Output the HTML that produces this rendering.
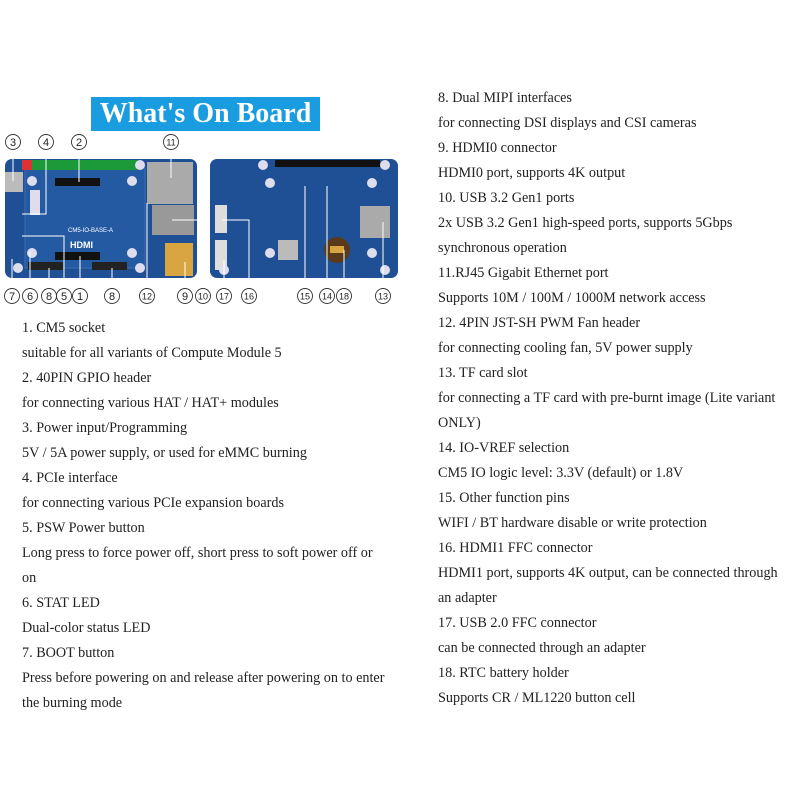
<!DOCTYPE html>
<html><head><meta charset="utf-8"><style>
body{margin:0;width:800px;height:800px;background:#fff;position:relative;overflow:hidden;font-family:"Liberation Serif",serif;}
.col{position:absolute;font-size:14.2px;line-height:25px;color:#222;white-space:nowrap;}
.title{position:absolute;left:91px;top:97px;width:229px;height:34px;background:#1a9ce0;color:#fff;font-weight:bold;font-size:28px;line-height:34px;text-align:center;}
svg{position:absolute;left:0;top:0}
</style></head><body>
<div class="title">What's On Board</div>
<svg width="800" height="310" viewBox="0 0 800 310" font-family="Liberation Sans, sans-serif">
<rect x="5" y="159" width="192" height="119" rx="7" fill="#1f4f95"/>
<rect x="25" y="168" width="120" height="100" fill="#245aa2" stroke="#3c6fb5"/>
<rect x="22" y="160" width="115" height="10" fill="#1c9a3a"/>
<rect x="22" y="160" width="10" height="10" fill="#d33"/>
<rect x="55" y="178" width="45" height="8" fill="#111"/>
<rect x="55" y="252" width="45" height="8" fill="#111"/>
<rect x="5" y="172" width="18" height="20" fill="#bbb"/>
<rect x="30" y="190" width="10" height="25" fill="#dde"/>
<rect x="147" y="162" width="46" height="42" fill="#aaa"/>
<rect x="152" y="205" width="42" height="30" fill="#999"/>
<rect x="165" y="243" width="28" height="33" fill="#d9a540"/>
<rect x="28" y="262" width="35" height="8" fill="#222"/>
<rect x="92" y="262" width="35" height="8" fill="#222"/>
<text x="68" y="232" font-size="6" fill="#fff">CM5-IO-BASE-A</text>
<text x="70" y="248" font-size="9" fill="#fff" font-weight="bold">HDMI</text>
<g fill="#dde"><circle cx="32" cy="181" r="5"/><circle cx="132" cy="181" r="5"/><circle cx="32" cy="253" r="5"/><circle cx="132" cy="253" r="5"/><circle cx="18" cy="268" r="5"/><circle cx="140" cy="165" r="5"/><circle cx="140" cy="268" r="5"/></g>
<rect x="210" y="159" width="188" height="119" rx="7" fill="#1f4f95"/>
<rect x="275" y="160" width="105" height="7" fill="#111"/>
<rect x="215" y="205" width="12" height="28" fill="#ddd"/>
<rect x="215" y="240" width="12" height="30" fill="#ddd"/>
<rect x="360" y="206" width="30" height="32" fill="#aaa"/>
<circle cx="337" cy="250" r="13" fill="#5a3a1a"/>
<rect x="330" y="246" width="14" height="7" fill="#d9a540"/>
<rect x="278" y="240" width="20" height="20" fill="#bbb"/>
<g fill="#dde"><circle cx="263" cy="165" r="5"/><circle cx="385" cy="165" r="5"/><circle cx="270" cy="183" r="5"/><circle cx="372" cy="183" r="5"/><circle cx="270" cy="253" r="5"/><circle cx="372" cy="253" r="5"/><circle cx="224" cy="270" r="5"/><circle cx="385" cy="270" r="5"/></g>
<g stroke="#fff" stroke-width="1" fill="none">
<path d="M13 150V181"/><path d="M46 150V214H22"/><path d="M79 150V182"/><path d="M171 150V178"/>
<path d="M80 288V256"/><path d="M64 288V236H22"/><path d="M30 288V251"/><path d="M12 288V259"/>
<path d="M49 288V268"/><path d="M112 288V268"/><path d="M147 288V203"/><path d="M185 288V262"/>
<path d="M203 288V220H172"/><path d="M224 288V260"/><path d="M249 288V220H222"/>
<path d="M305 288V186"/><path d="M327 288V186"/><path d="M344 288V250"/><path d="M383 288V222"/>
</g>
<g text-anchor="middle" fill="#222">
<g fill="none" stroke="#333" stroke-width="0.9">
<circle cx="13" cy="142" r="7.5"/><circle cx="46" cy="142" r="7.5"/><circle cx="79" cy="142" r="7.5"/><circle cx="171" cy="142" r="7.5"/>
<circle cx="12" cy="296" r="7.5"/><circle cx="30" cy="296" r="7.5"/><circle cx="49" cy="296" r="7.5"/><circle cx="64" cy="296" r="7.5"/><circle cx="80" cy="296" r="7.5"/><circle cx="112" cy="296" r="7.5"/><circle cx="147" cy="296" r="7.5"/><circle cx="185" cy="296" r="7.5"/><circle cx="203" cy="296" r="7.5"/><circle cx="224" cy="296" r="7.5"/><circle cx="249" cy="296" r="7.5"/><circle cx="305" cy="296" r="7.5"/><circle cx="327" cy="296" r="7.5"/><circle cx="344" cy="296" r="7.5"/><circle cx="383" cy="296" r="7.5"/>
</g>
<g font-size="11">
<text x="13" y="146">3</text><text x="46" y="146">4</text><text x="79" y="146">2</text><text x="171" y="145.5" font-size="9">11</text>
<text x="12" y="300">7</text><text x="30" y="300">6</text><text x="49" y="300">8</text><text x="64" y="300">5</text><text x="80" y="300">1</text><text x="112" y="300">8</text><text x="147" y="299.5" font-size="9">12</text><text x="185" y="300">9</text><text x="203" y="299.5" font-size="9">10</text><text x="224" y="299.5" font-size="9">17</text><text x="249" y="299.5" font-size="9">16</text><text x="305" y="299.5" font-size="9">15</text><text x="327" y="299.5" font-size="9">14</text><text x="344" y="299.5" font-size="9">18</text><text x="383" y="299.5" font-size="9">13</text>
</g></g>
</svg>
<div class="col" style="left:22px;top:316px">1. CM5 socket<br>suitable for all variants of Compute Module 5<br>2. 40PIN GPIO header<br>for connecting various HAT / HAT+ modules<br>3. Power input/Programming<br>5V / 5A power supply, or used for eMMC burning<br>4. PCIe interface<br>for connecting various PCIe expansion boards<br>5. PSW Power button<br>Long press to force power off, short press to soft power off or<br>on<br>6. STAT LED<br>Dual-color status LED<br>7. BOOT button<br>Press before powering on and release after powering on to enter<br>the burning mode</div>
<div class="col" style="left:438px;top:86px">8. Dual MIPI interfaces<br>for connecting DSI displays and CSI cameras<br>9. HDMI0 connector<br>HDMI0 port, supports 4K output<br>10. USB 3.2 Gen1 ports<br>2x USB 3.2 Gen1 high-speed ports, supports 5Gbps<br>synchronous operation<br>11.RJ45 Gigabit Ethernet port<br>Supports 10M / 100M / 1000M network access<br>12. 4PIN JST-SH PWM Fan header<br>for connecting cooling fan, 5V power supply<br>13. TF card slot<br>for connecting a TF card with pre-burnt image (Lite variant<br>ONLY)<br>14. IO-VREF selection<br>CM5 IO logic level: 3.3V (default) or 1.8V<br>15. Other function pins<br>WIFI / BT hardware disable or write protection<br>16. HDMI1 FFC connector<br>HDMI1 port, supports 4K output, can be connected through<br>an adapter<br>17. USB 2.0 FFC connector<br>can be connected through an adapter<br>18. RTC battery holder<br>Supports CR / ML1220 button cell</div>
</body></html>
